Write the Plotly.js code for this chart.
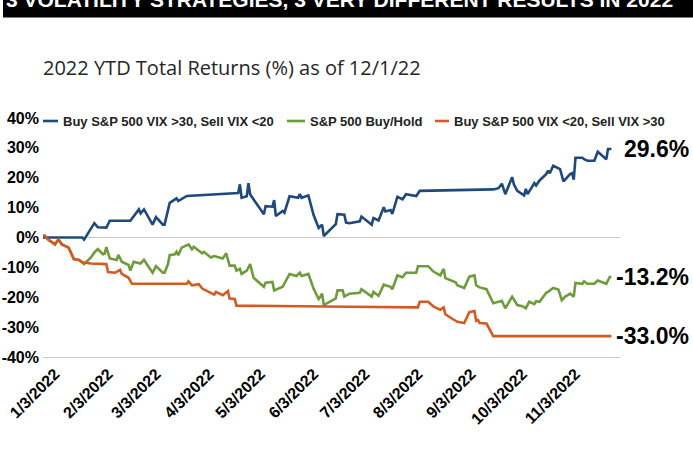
<!DOCTYPE html>
<html>
<head>
<meta charset="utf-8">
<script src="https://cdn.plot.ly/plotly-3.0.1.min.js"></script>
<style>html,body{margin:0;padding:0;background:#fff;}#chart{width:693px;height:455px;}</style>
</head>
<body>
<div id="chart"></div>
<script>
// ---------- DATA ----------
const seriesNames = ["Buy S&P 500 VIX >30, Sell VIX <20", "S&P 500 Buy/Hold", "Buy S&P 500 VIX <20, Sell VIX >30"];
const endLabels = ["29.6%", "-13.2%", "-33.0%"];
const bannerText = "3 VOLATILITY STRATEGIES, 3 VERY DIFFERENT RESULTS IN 2022";
const chartTitle = "2022 YTD Total Returns (%) as of 12/1/22";

const xTickVals = ["2022-01-03","2022-02-03","2022-03-03","2022-04-03","2022-05-03","2022-06-03","2022-07-03","2022-08-03","2022-09-03","2022-10-03","2022-11-03"];
const xTickText = ["1/3/2022","2/3/2022","3/3/2022","4/3/2022","5/3/2022","6/3/2022","7/3/2022","8/3/2022","9/3/2022","10/3/2022","11/3/2022"];
const yTickVals = [40,30,20,10,0,-10,-20,-30,-40];
const yTickText = ["40%","30%","20%","10%","0%","-10%","-20%","-30%","-40%"];

const blueDates = ["2022-01-03","2022-01-26","2022-01-27","2022-02-02","2022-02-04","2022-02-09","2022-02-11","2022-02-23","2022-02-28","2022-03-01","2022-03-03","2022-03-08","2022-03-10","2022-03-14","2022-03-15","2022-03-18","2022-03-22","2022-03-23","2022-03-28","2022-04-27","2022-04-28","2022-04-29","2022-05-02","2022-05-03","2022-05-04","2022-05-12","2022-05-13","2022-05-17","2022-05-18","2022-05-19","2022-05-23","2022-05-24","2022-05-27","2022-06-01","2022-06-02","2022-06-03","2022-06-07","2022-06-10","2022-06-13","2022-06-15","2022-06-16","2022-06-23","2022-06-24","2022-06-28","2022-06-29","2022-07-01","2022-07-07","2022-07-08","2022-07-14","2022-07-15","2022-07-18","2022-07-21","2022-07-22","2022-07-25","2022-07-26","2022-07-29","2022-08-01","2022-08-03","2022-08-09","2022-08-11","2022-09-23","2022-09-26","2022-09-28","2022-09-30","2022-10-04","2022-10-05","2022-10-07","2022-10-11","2022-10-12","2022-10-13","2022-10-17","2022-10-18","2022-10-20","2022-10-24","2022-10-25","2022-10-26","2022-10-28","2022-11-01","2022-11-03","2022-11-07","2022-11-08","2022-11-09","2022-11-10","2022-11-14","2022-11-15","2022-11-17","2022-11-21","2022-11-23","2022-11-28","2022-11-29","2022-12-01"];
const blueVals = [0,0,-0.7,4.8,3.4,3.3,5.6,5.6,9.4,8.1,9.4,4.3,6.8,4.3,4.3,11.6,13.1,12.2,13.9,14.9,17.8,13.3,13.8,18.2,14.4,7.8,10.5,10.3,12.5,7.2,8.9,8.3,13.8,13.3,14.5,13.3,14.1,7.6,3.2,4.3,0.5,4.5,7.8,7.6,5.0,4.8,5.4,7.0,4.3,6.5,5.7,10.1,8.7,9.2,7.9,13.6,12.8,14.5,13.9,15.6,16.1,16.5,18.0,14.5,20.2,17.8,15.6,14.1,16.3,14.5,18.2,17.4,19.1,21.3,22.4,21.5,24.0,22.9,18.8,21.3,21.5,19.4,26.7,26.7,26.2,25.7,25.7,28.7,26.2,29.6,29.6];

const greenDates = ["2022-01-03","2022-01-04","2022-01-06","2022-01-10","2022-01-12","2022-01-14","2022-01-18","2022-01-21","2022-01-24","2022-01-26","2022-01-27","2022-01-31","2022-02-02","2022-02-04","2022-02-07","2022-02-08","2022-02-09","2022-02-11","2022-02-15","2022-02-16","2022-02-18","2022-02-22","2022-02-23","2022-02-25","2022-03-01","2022-03-03","2022-03-08","2022-03-10","2022-03-14","2022-03-15","2022-03-17","2022-03-18","2022-03-21","2022-03-22","2022-03-23","2022-03-25","2022-03-29","2022-03-31","2022-04-01","2022-04-06","2022-04-07","2022-04-11","2022-04-13","2022-04-18","2022-04-20","2022-04-22","2022-04-25","2022-04-26","2022-04-28","2022-04-29","2022-05-02","2022-05-04","2022-05-06","2022-05-12","2022-05-13","2022-05-17","2022-05-18","2022-05-23","2022-05-27","2022-05-31","2022-06-02","2022-06-03","2022-06-07","2022-06-10","2022-06-13","2022-06-14","2022-06-15","2022-06-16","2022-06-23","2022-06-24","2022-06-27","2022-06-28","2022-07-01","2022-07-07","2022-07-08","2022-07-14","2022-07-15","2022-07-18","2022-07-21","2022-07-22","2022-07-25","2022-07-26","2022-07-29","2022-08-01","2022-08-03","2022-08-09","2022-08-10","2022-08-16","2022-08-19","2022-08-23","2022-08-25","2022-08-26","2022-08-30","2022-09-01","2022-09-02","2022-09-06","2022-09-09","2022-09-12","2022-09-13","2022-09-15","2022-09-19","2022-09-23","2022-09-28","2022-09-30","2022-10-04","2022-10-07","2022-10-10","2022-10-12","2022-10-14","2022-10-17","2022-10-18","2022-10-20","2022-10-24","2022-10-25","2022-10-28","2022-10-31","2022-11-02","2022-11-04","2022-11-07","2022-11-09","2022-11-10","2022-11-14","2022-11-15","2022-11-17","2022-11-21","2022-11-23","2022-11-28","2022-11-30","2022-12-01"];
const greenVals = [0.7,0.6,-0.7,-2.3,-0.7,-2.3,-3.4,-7.2,-7.5,-8.3,-8.9,-6.7,-5.0,-3.9,-5.6,-5.4,-3.2,-7.0,-7.5,-5.8,-8.1,-9.2,-11.1,-8.1,-8.7,-7.5,-11.8,-9.6,-11.8,-11.8,-8.9,-5.9,-5.6,-4.8,-5.9,-3.4,-2.3,-3.9,-3.1,-5.3,-4.8,-6.7,-6.2,-7.0,-5.3,-9.4,-9.4,-11.1,-10.5,-12.2,-11.1,-8.9,-13.5,-16.5,-15.1,-14.9,-17.7,-16.5,-12.2,-12.9,-11.8,-12.9,-12.2,-17.1,-20.6,-19.8,-18.8,-22.6,-20.4,-17.7,-17.7,-19.8,-18.8,-18.5,-17.3,-19.8,-18.2,-19.5,-15.8,-16.0,-16.5,-17.3,-12.7,-13.3,-11.8,-11.8,-9.6,-9.6,-11.4,-12.7,-10.5,-13.6,-14.4,-15.0,-16.0,-16.9,-13.1,-12.7,-16.0,-16.7,-17.3,-22.0,-21.2,-23.7,-19.8,-22.6,-23.0,-23.7,-21.5,-22.3,-21.3,-21.5,-18.4,-18.2,-16.9,-17.4,-21.0,-19.8,-18.8,-19.8,-15.2,-15.5,-14.7,-15.5,-15.5,-14.4,-15.5,-13.2,-13.2];

const orangeDates = ["2022-01-03","2022-01-04","2022-01-06","2022-01-10","2022-01-12","2022-01-14","2022-01-18","2022-01-21","2022-01-24","2022-01-26","2022-01-31","2022-02-09","2022-02-10","2022-02-14","2022-02-17","2022-02-18","2022-02-22","2022-02-24","2022-03-28","2022-03-29","2022-03-31","2022-04-04","2022-04-06","2022-04-11","2022-04-13","2022-04-14","2022-04-18","2022-04-21","2022-04-22","2022-04-25","2022-04-26","2022-06-30","2022-08-10","2022-08-11","2022-08-16","2022-08-19","2022-08-23","2022-08-25","2022-08-26","2022-08-30","2022-09-02","2022-09-06","2022-09-09","2022-09-12","2022-09-13","2022-09-14","2022-09-15","2022-09-19","2022-09-20","2022-09-21","2022-09-22","2022-09-23","2022-12-01"];
const orangeVals = [0.7,0.6,-0.7,-2.3,-0.7,-2.3,-3.4,-7.2,-7.5,-8.3,-8.7,-8.9,-11.6,-11.8,-10.8,-12.2,-13.5,-15.5,-15.5,-14.7,-16.0,-15.6,-17.1,-18.4,-19.1,-18.2,-19.3,-17.9,-20.4,-20.6,-22.8,-23.2,-23.4,-21.5,-21.5,-23.1,-24.2,-23.4,-25.7,-27.2,-28.2,-28.6,-25.0,-24.6,-27.9,-27.6,-28.6,-28.8,-29.8,-31.2,-32.2,-33.0,-33.0];

// ---------- STYLE ----------
const colors = ["#1F497D", "#6E9C3C", "#D45A22"];
const W = 693, H = 455;
const M = {l: 43, r: 73, t: 118, b: 98};
const pw = W - M.l - M.r, ph = H - M.t - M.b;
const px = x => (x - M.l) / pw;          // pixel -> paper x
const py = y => (H - M.b - y) / ph;      // pixel -> paper y
const baseFont = "Liberation Sans, Arial, sans-serif";

const series = [[blueDates, blueVals], [greenDates, greenVals], [orangeDates, orangeVals]];
const order = [1, 0, 2]; // green first, blue, orange on top
const traces = order.map(i => ({
  type: "scatter", mode: "lines",
  x: series[i][0], y: series[i][1],
  name: seriesNames[i],
  line: {color: colors[i], width: 2.6},
  hoverinfo: "x+y+name"
}));

const shapes = [
  {type: "rect", xref: "paper", yref: "paper", x0: px(3), x1: px(700), y0: py(17.5), y1: py(-5),
   fillcolor: "#000", line: {width: 0}, layer: "below"}
];
const annotations = [
  {xref: "paper", yref: "paper", x: px(4), y: py(13), xanchor: "left", yanchor: "bottom",
   text: bannerText, showarrow: false, font: {family: baseFont, size: 21, color: "#fff", weight: "bold"}},
  {xref: "paper", yref: "paper", x: px(41), y: py(67), xanchor: "left", yanchor: "middle",
   text: chartTitle, showarrow: false, font: {family: "Open Sans, Liberation Sans, sans-serif", size: 20, color: "#262626"}}
];
// manual legend
const legendPos = [[43, 58, 61], [287, 305, 308], [435, 449, 452]];
const legY = 121;
for (let i = 0; i < 3; i++) {
  const [a, b, t] = legendPos[i];
  shapes.push({type: "line", xref: "paper", yref: "paper", x0: px(a), x1: px(b), y0: py(legY), y1: py(legY),
    line: {color: colors[i], width: 2.6}});
  annotations.push({xref: "paper", yref: "paper", x: px(t), y: py(legY), xanchor: "left", yanchor: "middle",
    text: seriesNames[i], showarrow: false,
    font: {family: baseFont, size: 13, color: "#222", weight: "bold"}});
}
// end-value labels at the last point of each series
for (let i = 0; i < 3; i++) {
  const vals = series[i][1];
  annotations.push({xref: "paper", yref: "y", x: px(691), y: vals[vals.length - 1], xanchor: "right", yanchor: "middle",
    text: endLabels[i], showarrow: false,
    font: {family: baseFont, size: 23, color: "#000", weight: "bold"}});
}

const layout = {
  width: W, height: H,
  margin: M,
  paper_bgcolor: "#fff", plot_bgcolor: "#fff",
  showlegend: false,
  xaxis: {
    type: "date", range: ["2022-01-03", "2022-12-06"],
    tickmode: "array", tickvals: xTickVals, ticktext: xTickText, tickangle: -45,
    tickfont: {family: "Liberation Sans Narrow, Liberation Sans, Arial, sans-serif", size: 16, color: "#000", weight: "bold"},
    ticklabelshift: 12, ticklabelstandoff: 0, ticklabeloverflow: "allow",
    showgrid: false, zeroline: false, showline: true, linecolor: "#c8c8c8", linewidth: 1.3, ticks: "",
    automargin: false
  },
  yaxis: {
    range: [-40, 40], tickmode: "array", tickvals: yTickVals, ticktext: yTickText,
    tickfont: {family: baseFont, size: 16, color: "#000", weight: "bold"},
    showgrid: false, zeroline: true, zerolinecolor: "#c8c8c8", zerolinewidth: 1.3, showline: false, ticks: "",
    automargin: false, ticklabelstandoff: 3
  },
  shapes: shapes,
  annotations: annotations
};

Plotly.newPlot("chart", traces, layout, {displayModeBar: false, staticPlot: true});
</script>
</body>
</html>
